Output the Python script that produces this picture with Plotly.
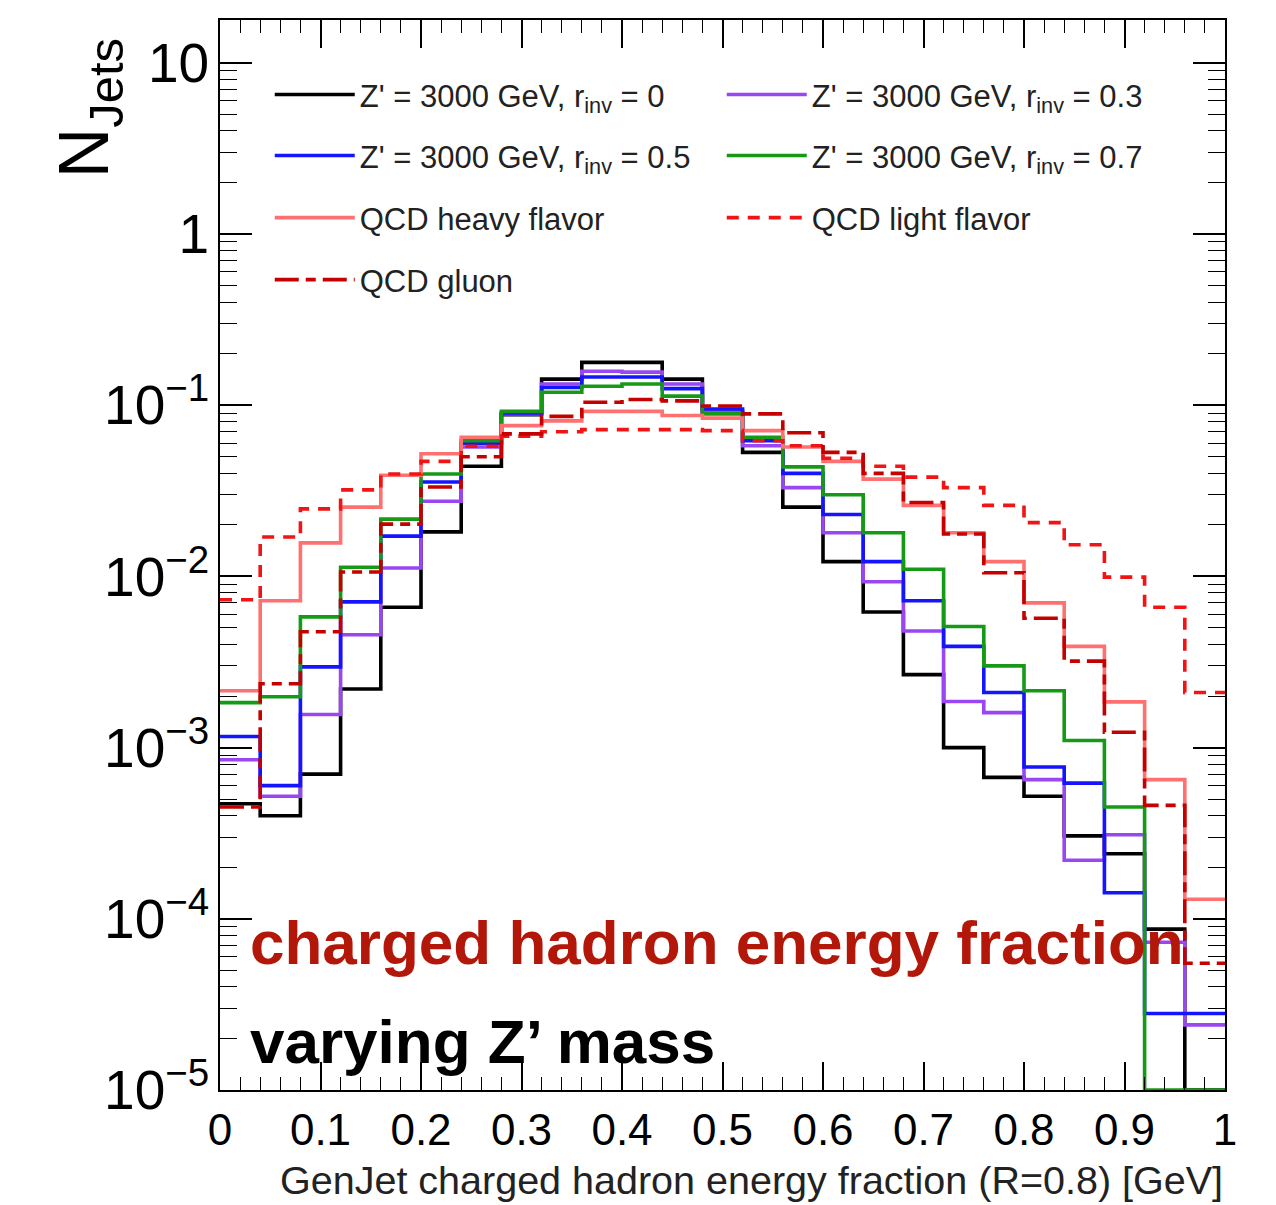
import numpy as np
import plotly.graph_objects as go

# ---------------- data ----------------
bin_edges = [0.00, 0.04, 0.08, 0.12, 0.16, 0.20, 0.24, 0.28, 0.32, 0.36, 0.40, 0.44, 0.48,
             0.52, 0.56, 0.60, 0.64, 0.68, 0.72, 0.76, 0.80, 0.84, 0.88, 0.92, 0.96, 1.00]

zp_rinv_0 = [4.7e-4, 4.0e-4, 7.0e-4, 2.2e-3, 6.6e-3, 0.0182, 0.044, 0.088, 0.142, 0.178,
             0.178, 0.142, 0.090, 0.053, 0.0254, 0.0122, 6.2e-3, 2.67e-3, 1.0e-3, 6.7e-4,
             5.2e-4, 3.05e-4, 2.4e-4, 8.7e-5, 0.0]
zp_rinv_03 = [8.5e-4, 5.2e-4, 1.56e-3, 4.56e-3, 0.0112, 0.0275, 0.057, 0.089, 0.133, 0.158,
              0.156, 0.133, 0.092, 0.058, 0.033, 0.018, 9.3e-3, 4.8e-3, 1.86e-3, 1.6e-3,
              6.5e-4, 2.2e-4, 3.1e-4, 7.3e-5, 2.4e-5]
zp_rinv_05 = [1.16e-3, 6.0e-4, 2.96e-3, 7.1e-3, 0.0172, 0.0356, 0.060, 0.090, 0.127, 0.146,
              0.146, 0.125, 0.095, 0.062, 0.040, 0.023, 0.0122, 7.2e-3, 3.9e-3, 2.1e-3,
              7.7e-4, 6.2e-4, 1.42e-4, 2.8e-5, 2.8e-5]
zp_rinv_07 = [1.83e-3, 1.98e-3, 5.8e-3, 0.0113, 0.0216, 0.0396, 0.062, 0.092, 0.119, 0.129,
              0.133, 0.113, 0.089, 0.065, 0.0436, 0.030, 0.018, 0.011, 5.1e-3, 3.0e-3,
              2.15e-3, 1.1e-3, 4.5e-4, 0.0, 0.0]
qcd_heavy = [2.15e-3, 7.2e-3, 0.0157, 0.0254, 0.039, 0.052, 0.065, 0.076, 0.081, 0.092,
             0.092, 0.087, 0.084, 0.071, 0.057, 0.047, 0.037, 0.026, 0.018, 0.0122,
             7.0e-3, 3.9e-3, 1.85e-3, 6.5e-4, 1.3e-4]
qcd_light = [7.3e-3, 0.017, 0.0248, 0.032, 0.0396, 0.047, 0.0576, 0.066, 0.070, 0.072,
             0.072, 0.072, 0.071, 0.062, 0.058, 0.049, 0.044, 0.038, 0.033, 0.026,
             0.0206, 0.0153, 0.0099, 6.6e-3, 2.1e-3]
qcd_gluon = [4.5e-4, 2.36e-3, 4.75e-3, 0.0106, 0.0202, 0.0333, 0.050, 0.068, 0.086, 0.104,
             0.108, 0.106, 0.099, 0.089, 0.069, 0.053, 0.040, 0.027, 0.0177, 0.0105,
             5.7e-3, 3.2e-3, 1.23e-3, 4.6e-4, 5.5e-5]

series_names = [
    "Z' = 3000 GeV, r<sub>inv</sub> = 0",
    "Z' = 3000 GeV, r<sub>inv</sub> = 0.3",
    "Z' = 3000 GeV, r<sub>inv</sub> = 0.5",
    "Z' = 3000 GeV, r<sub>inv</sub> = 0.7",
    "QCD heavy flavor",
    "QCD light flavor",
    "QCD gluon",
]
series_values = [zp_rinv_0, zp_rinv_03, zp_rinv_05, zp_rinv_07, qcd_heavy, qcd_light, qcd_gluon]
series_colors = ["#000000", "#9a46f2", "#1414ff", "#169a16", "#ff7070", "#f01414", "#c40000"]
series_dash = ["solid", "solid", "solid", "solid", "solid", "12px,9px", "24px,7px,10px,7px"]
# legend row of each series (two entries per row, as in the reference)
series_legend = ["legend", "legend", "legend2", "legend2", "legend3", "legend3", "legend4"]

x_tick_vals = [0, 0.1, 0.2, 0.3, 0.4, 0.5, 0.6, 0.7, 0.8, 0.9, 1]
x_tick_text = ["0", "0.1", "0.2", "0.3", "0.4", "0.5", "0.6", "0.7", "0.8", "0.9", "1"]

YMIN_LOG, YMAX_LOG = -5, 1.25
FONT = "Liberation Sans, Arial, Helvetica, sans-serif"

fig = go.Figure()
edges = np.array(bin_edges)
for name, vals, col, dash, lg in zip(series_names, series_values, series_colors,
                                     series_dash, series_legend):
    v = np.array(vals, dtype=float)
    v = np.where(v > 0, v, 10 ** YMIN_LOG)  # empty bins drawn on the axis floor
    y = np.append(v, v[-1])
    fig.add_trace(go.Scatter(
        x=edges, y=y, mode="lines", name=name, legend=lg,
        line=dict(shape="hv", color=col, width=3.6, dash=dash),
        hoverinfo="skip",
    ))

legend_rows_y = {"legend": 0.930, "legend2": 0.873, "legend3": 0.815, "legend4": 0.757}
legend_common = dict(
    orientation="h", x=0.0495, xanchor="left", yanchor="middle",
    entrywidth=357, entrywidthmode="pixels", itemwidth=80,
    font=dict(size=31, family=FONT, color="#222222"),
    bgcolor="rgba(0,0,0,0)", traceorder="normal",
)

fig.update_layout(
    width=1276, height=1205,
    margin=dict(l=220, r=51, t=20, b=115),
    paper_bgcolor="white", plot_bgcolor="white",
    font=dict(family=FONT, color="black"),
    showlegend=True,
    **{k: dict(y=yv, **legend_common) for k, yv in legend_rows_y.items()},
)

fig.update_xaxes(
    range=[0, 1], showgrid=False, zeroline=False,
    tickmode="array", tickvals=x_tick_vals, ticktext=x_tick_text,
    ticks="inside", ticklen=28, tickwidth=1.5, tickcolor="black",
    minor=dict(ticks="inside", dtick=0.02, ticklen=13, tickwidth=1.3, tickcolor="black", showgrid=False),
    showline=True, linecolor="black", linewidth=2, mirror="allticks",
    tickfont=dict(size=44, family=FONT, color="black"),
)
fig.update_yaxes(
    type="log", range=[YMIN_LOG, YMAX_LOG], showgrid=False, zeroline=False,
    dtick=1, exponentformat="power",
    ticks="inside", ticklen=32, tickwidth=1.5, tickcolor="black",
    minor=dict(ticks="inside", dtick="D1", ticklen=17, tickwidth=1.3, tickcolor="black", showgrid=False),
    showline=True, linecolor="black", linewidth=2, mirror="allticks",
    tickfont=dict(size=44, family=FONT, color="black"),
)

# axis titles
fig.add_annotation(
    text="GenJet charged hadron energy fraction (R=0.8) [GeV]",
    xref="paper", yref="paper", x=1, y=0, xanchor="right", yanchor="top",
    yshift=-66, showarrow=False, font=dict(size=39.5, family=FONT, color="#222222"),
)
fig.add_annotation(
    text="N<sub>Jets</sub>",
    xref="paper", yref="paper", x=-0.13, y=1, xanchor="center", yanchor="top",
    yshift=-16, textangle=-90, showarrow=False,
    font=dict(size=70, family=FONT, color="black"),
)

# overlay labels
fig.add_annotation(
    text="<b>charged hadron energy fraction</b>",
    xref="paper", yref="paper", x=0.028, y=0.138, xanchor="left", yanchor="middle",
    showarrow=False, font=dict(size=62, family=FONT, color="#b3170a"),
)
fig.add_annotation(
    text="<b>varying Z’ mass</b>",
    xref="paper", yref="paper", x=0.028, y=0.045, xanchor="left", yanchor="middle",
    showarrow=False, font=dict(size=62, family=FONT, color="black"),
)

fig.write_html("out.html")
